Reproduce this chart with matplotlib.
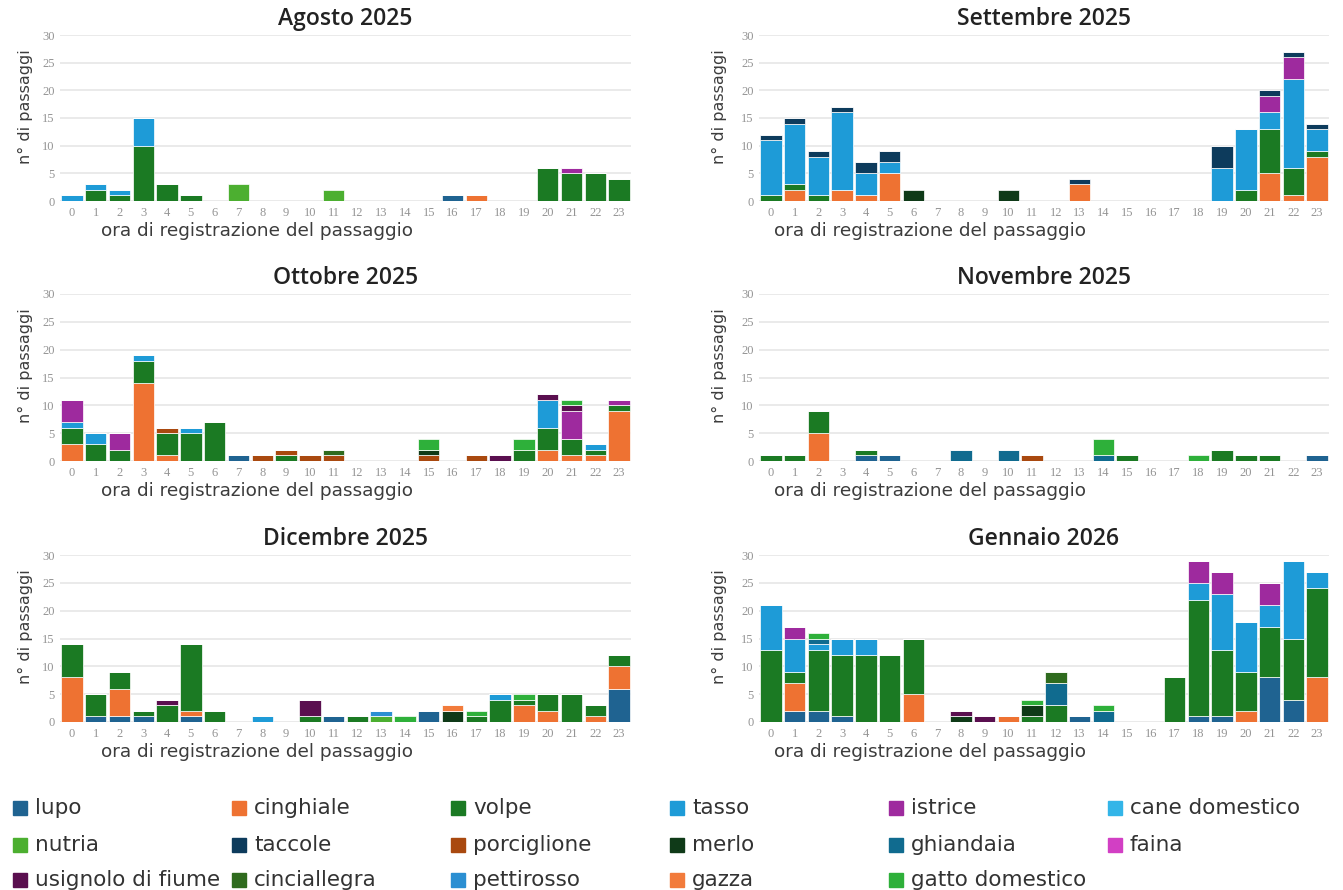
import numpy as np
import matplotlib
matplotlib.use("Agg")
import matplotlib.pyplot as plt
from matplotlib.patches import Rectangle

hours = list(range(24))

species = ["lupo", "cinghiale", "volpe", "tasso", "istrice", "cane domestico",
           "nutria", "taccole", "porciglione", "merlo", "ghiandaia", "faina",
           "usignolo di fiume", "cinciallegra", "pettirosso", "gazza", "gatto domestico"]
colors = ["#1f6391", "#ee7232", "#1b7a23", "#1e9bd7", "#9e2a9e", "#33b5e8",
          "#4caf30", "#0d3b5c", "#a9490f", "#0f3a18", "#106b8f", "#d23fc4",
          "#5a0f4f", "#2f6b1e", "#2b8fd2", "#f27b3b", "#2eb03a"]

# passaggi per ora: {specie: {ora: conteggio}}
agosto = {
    "lupo": {16: 1},
    "cinghiale": {17: 1},
    "volpe": {1: 2, 2: 1, 3: 10, 4: 3, 5: 1, 20: 6, 21: 5, 22: 5, 23: 4},
    "tasso": {0: 1, 1: 1, 2: 1, 3: 5},
    "istrice": {21: 1},
    "nutria": {7: 3, 11: 2},
}
settembre = {
    "cinghiale": {1: 2, 3: 2, 4: 1, 5: 5, 13: 3, 21: 5, 22: 1, 23: 8},
    "volpe": {0: 1, 1: 1, 2: 1, 20: 2, 21: 8, 22: 5, 23: 1},
    "tasso": {0: 10, 1: 11, 2: 7, 3: 14, 4: 4, 5: 2, 19: 6, 20: 11, 21: 3, 22: 16, 23: 4},
    "istrice": {21: 3, 22: 4},
    "taccole": {0: 1, 1: 1, 2: 1, 3: 1, 4: 2, 5: 2, 13: 1, 19: 4, 21: 1, 22: 1, 23: 1},
    "merlo": {6: 2, 10: 2},
}
ottobre = {
    "lupo": {7: 1},
    "cinghiale": {0: 3, 3: 14, 4: 1, 20: 2, 21: 1, 22: 1, 23: 9},
    "volpe": {0: 3, 1: 3, 2: 2, 3: 4, 4: 4, 5: 5, 6: 7, 9: 1, 19: 2, 20: 4, 21: 3, 22: 1, 23: 1},
    "tasso": {0: 1, 1: 2, 3: 1, 5: 1, 20: 5, 22: 1},
    "istrice": {0: 4, 2: 3, 21: 5, 23: 1},
    "porciglione": {4: 1, 8: 1, 9: 1, 10: 1, 11: 1, 15: 1, 17: 1},
    "merlo": {15: 1},
    "usignolo di fiume": {18: 1, 20: 1, 21: 1},
    "cinciallegra": {11: 1},
    "gatto domestico": {15: 2, 19: 2, 21: 1},
}
novembre = {
    "lupo": {4: 1, 5: 1, 23: 1},
    "cinghiale": {2: 5},
    "volpe": {0: 1, 1: 1, 2: 4, 4: 1, 15: 1, 19: 2, 20: 1, 21: 1},
    "porciglione": {11: 1},
    "ghiandaia": {8: 2, 10: 2, 14: 1},
    "gatto domestico": {14: 3, 18: 1},
}
dicembre = {
    "lupo": {1: 1, 2: 1, 3: 1, 5: 1, 11: 1, 15: 2, 23: 6},
    "cinghiale": {0: 8, 2: 5, 5: 1, 19: 3, 20: 2, 22: 1, 23: 4},
    "volpe": {0: 6, 1: 4, 2: 3, 3: 1, 4: 3, 5: 12, 6: 2, 10: 1, 12: 1, 17: 1, 18: 4,
              19: 1, 20: 3, 21: 5, 22: 2, 23: 2},
    "tasso": {8: 1, 18: 1},
    "nutria": {13: 1},
    "merlo": {16: 2},
    "usignolo di fiume": {4: 1, 10: 3},
    "pettirosso": {13: 1},
    "gazza": {16: 1},
    "gatto domestico": {14: 1, 17: 1, 19: 1},
}
gennaio = {
    "lupo": {1: 2, 2: 2, 3: 1, 13: 1, 18: 1, 19: 1, 21: 8, 22: 4},
    "cinghiale": {1: 5, 6: 5, 10: 1, 20: 2, 23: 8},
    "volpe": {0: 13, 1: 2, 2: 11, 3: 11, 4: 12, 5: 12, 6: 10, 11: 1, 12: 3, 17: 8,
              18: 21, 19: 12, 20: 7, 21: 9, 22: 11, 23: 16},
    "tasso": {0: 8, 1: 6, 2: 1, 3: 3, 4: 3, 18: 3, 19: 10, 20: 9, 21: 4, 22: 14, 23: 3},
    "istrice": {1: 2, 18: 4, 19: 4, 21: 4},
    "merlo": {8: 1, 11: 2},
    "ghiandaia": {2: 1, 12: 4, 14: 2},
    "usignolo di fiume": {8: 1, 9: 1},
    "cinciallegra": {12: 2},
    "gatto domestico": {2: 1, 11: 1, 14: 1},
}

months = [("Agosto 2025", agosto), ("Settembre 2025", settembre),
          ("Ottobre 2025", ottobre), ("Novembre 2025", novembre),
          ("Dicembre 2025", dicembre), ("Gennaio 2026", gennaio)]

W, H = 1343, 890
fig = plt.figure(figsize=(W / 100, H / 100), dpi=100)

# axes boxes in pixels: left, right; rows: y of 30-line and y of 0-line
cols_px = [(60, 631), (759, 1329)]
rows_px = [(35, 201), (294, 461), (555, 722)]

grid_c = "#e6e6e6"
tick_c = "#949494"
label_c = "#3c3c3c"

for i, (title, data) in enumerate(months):
    r, c = divmod(i, 2)
    x0, x1 = cols_px[c]
    yt, yb = rows_px[r]
    ax = fig.add_axes([x0 / W, 1 - yb / H, (x1 - x0) / W, (yb - yt) / H])

    bottom = np.zeros(24)
    for name, col in zip(species, colors):
        if name not in data:
            continue
        vals = np.array([data[name].get(h, 0) for h in hours], dtype=float)
        ax.bar(hours, vals, width=0.9, bottom=bottom, color=col,
               edgecolor="white", linewidth=0.5, zorder=3)
        bottom += vals

    ax.set_xlim(-0.5, 23.5)
    ax.set_ylim(0, 30)
    ax.set_yticks(range(0, 31, 5))
    ax.set_xticks(hours)
    ax.set_xticklabels([str(h) for h in hours])
    ax.tick_params(length=0, labelsize=9, colors=tick_c, pad=4)
    for lab in ax.get_xticklabels() + ax.get_yticklabels():
        lab.set_family("Liberation Serif")
    ax.grid(axis="y", color=grid_c, linewidth=1.2, zorder=0)
    for s in ax.spines.values():
        s.set_visible(False)

    ax.set_title(title, fontsize=16.5, family="Open Sans", fontweight="semibold",
                 color="#222222", pad=7)
    ax.set_xlabel("ora di registrazione del passaggio", fontsize=13.3, color=label_c)
    ax.set_ylabel("n° di passaggi", fontsize=11.5, color=label_c)
    ax.xaxis.set_label_coords(0.345 if c == 0 else 0.30, -0.125)
    ax.yaxis.set_label_coords(-0.047 if c == 0 else -0.057, 0.57)

# legend grid, filled row by row
leg_x = [13, 232, 451, 670, 889, 1108]
leg_y = [808, 845, 880]
for k, (name, col) in enumerate(zip(species, colors)):
    rr, cc = divmod(k, 6)
    px, py = leg_x[cc], leg_y[rr]
    fig.patches.append(Rectangle((px / W, 1 - (py + 7) / H), 14 / W, 14 / H,
                                 transform=fig.transFigure, color=col))
    fig.text((px + 22) / W, 1 - py / H, name, fontsize=15.5, color="#333333",
             va="center", ha="left")

fig.savefig("out.png", dpi=100, facecolor="white")
